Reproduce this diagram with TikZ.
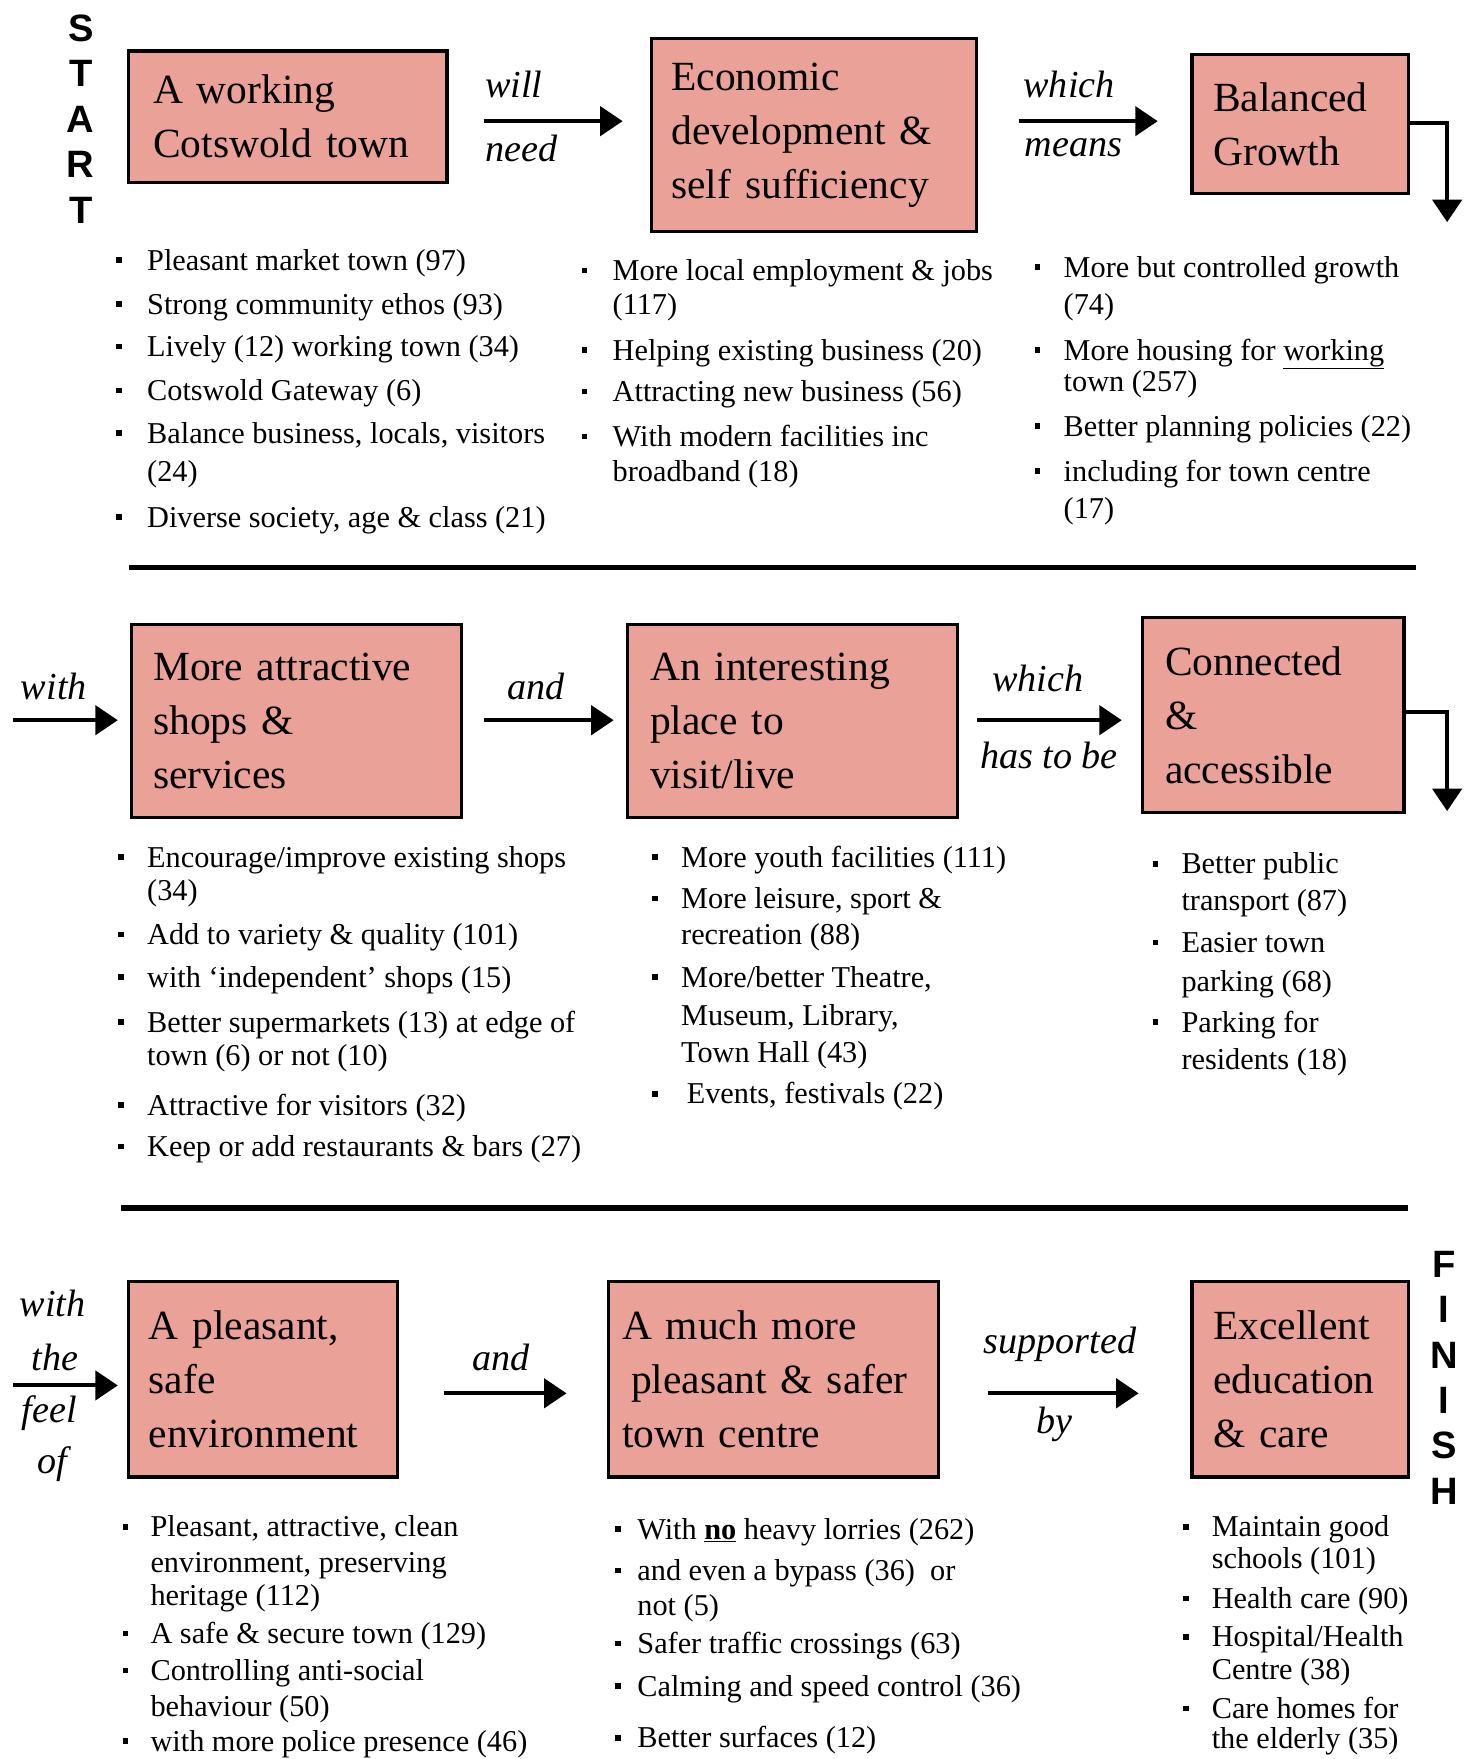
\documentclass[tikz,border=0pt]{standalone}
\usepackage{fontspec}
\setmainfont{Liberation Serif}
\newfontfamily\hdfont{Liberation Sans}
\usetikzlibrary{arrows.meta,calc}
\definecolor{boxfill}{RGB}{234,162,152}
\tikzset{
  box/.style={draw=black, line width=3pt, fill=boxfill, align=left, inner ysep=0pt,
    font=\fontsize{37}{48}\selectfont, anchor=north west},
  conn/.style={line width=3.5pt, -{Triangle[length=20pt,width=26pt]}},
  lab/.style={font=\fontsize{34}{36}\selectfont\itshape, inner sep=0pt},
  btxt/.style={font=\fontsize{27}{30}\selectfont, anchor=base west, inner sep=0pt},
  sepline/.style={line width=5pt},
  endword/.style={font=\hdfont\bfseries\fontsize{34}{40.5}\selectfont, align=center, inner sep=0pt}
}
\newcommand\bi[5]{\fill (#2-2.5,#4-2.5) rectangle (#2+2.5,#4+2.5); \node[btxt] (#1) at (#3,#4+9) {#5};}
\newcommand\cl[4]{\node[btxt] (#1) at (#2,#3+9) {#4};}
\begin{document}
\begin{tikzpicture}[x=1pt,y=-1pt]
\fill[white] (0,0) rectangle (1311,1568);
\useasboundingbox (0,0) rectangle (1311,1568);

% START / FINISH
\node[endword] (start) at (72,106) {S\\T\\A\\R\\T};
\node[endword] (finish) at (1287,1228) {F\\I\\N\\I\\S\\H};

% boxes
\node[box, minimum width=284pt, minimum height=117pt, inner xsep=22pt, text width=240pt] (b1) at (113,44) {A working\\Cotswold town};
\node[box, minimum width=290pt, minimum height=172pt, inner xsep=18pt, text width=254pt] (b2) at (579,33) {Economic\\development \&\\self sufficiency};
\node[box, minimum width=193pt, minimum height=124pt, inner xsep=19pt, text width=155pt] (b3) at (1061,47) {Balanced\\Growth};
\node[box, minimum width=294pt, minimum height=172pt, inner xsep=19pt, text width=256pt] (b4) at (116,555) {More attractive\\shops \&\\services};
\node[box, minimum width=294pt, minimum height=172pt, inner xsep=20pt, text width=254pt] (b5) at (558,555) {An interesting\\place to\\visit/live};
\node[box, minimum width=233pt, minimum height=174pt, inner xsep=20pt, text width=193pt] (b6) at (1017,549) {Connected\\\&\\accessible};
\node[box, minimum width=240pt, minimum height=174pt, inner xsep=18pt, text width=204pt] (b7) at (113,1141) {A pleasant,\\safe\\environment};
\node[box, minimum width=294pt, minimum height=174pt, inner xsep=12pt, text width=270pt] (b8) at (541,1141) {A much more\\\hspace*{8pt}pleasant \& safer\\town centre};
\node[box, minimum width=193pt, minimum height=174pt, inner xsep=19pt, text width=155pt] (b9) at (1061,1141) {Excellent\\education\\\& care};

% connector labels
\node[lab] (l1a) at (458,75) {will};
\node[lab] (l1b) at (465,132) {need};
\node[lab] (l2a) at (953,75) {which};
\node[lab] (l2b) at (957,132) {means};
\node[lab] (l3a) at (48,612) {with};
\node[lab] (l4a) at (478,612) {and};
\node[lab] (l5a) at (925,605) {which};
\node[lab] (l5b) at (935,673) {has to be};
\node[lab] (l6a) at (47,1162) {with};
\node[lab] (l6b) at (49,1210) {the};
\node[lab] (l6c) at (44,1260) {feel};
\node[lab] (l6d) at (47,1305) {of};
\node[lab] (l7a) at (447,1210) {and};
\node[lab] (l8a) at (945,1198) {supported};
\node[lab] (l8b) at (940,1270) {by};

% connectors
\coordinate (d1) at (1290,198);
\coordinate (d2) at (1290,723);
\coordinate (w2) at (12,642);
\coordinate (w3) at (12,1235);
\draw[conn, shorten <=31pt, shorten >=24pt] (b1.east |- 0,108) -- (b2.west |- 0,108);
\draw[conn, shorten <=36pt, shorten >=29pt] (b2.east |- 0,108) -- (b3.west |- 0,108);
\draw[conn] (b3.east |- 0,110) -| (d1);
\draw[conn, shorten >=11pt] (w2) -- (b4.west |- w2);
\draw[conn, shorten <=18pt, shorten >=11pt] (b4.east |- 0,642) -- (b5.west |- 0,642);
\draw[conn, shorten <=16pt, shorten >=17pt] (b5.east |- 0,642) -- (b6.west |- 0,642);
\draw[conn] (b6.east |- 0,635) -| (d2);
\draw[conn, shorten >=8pt] (w3) -- (b7.west |- w3);
\draw[conn, shorten <=40pt, shorten >=36pt] (b7.east |- 0,1242) -- (b8.west |- 0,1242);
\draw[conn, shorten <=43pt, shorten >=46pt] (b8.east |- 0,1242) -- (b9.west |- 0,1242);

% separators
\draw[sepline] (115,506) -- (1262,506);
\draw[sepline] (108,1077) -- (1255,1077);

% row 1 bullets
\bi{p1}{106}{131}{232}{Pleasant market town (97)}
\bi{p2}{106}{131}{271}{Strong community ethos (93)}
\bi{p3}{106}{131}{309}{Lively (12) working town (34)}
\bi{p4}{106}{131}{348}{Cotswold Gateway (6)}
\bi{p5}{106}{131}{386}{Balance business, locals, visitors}
\cl{p5b}{131}{420}{(24)}
\bi{p6}{106}{131}{461}{Diverse society, age \& class (21)}

\bi{q1}{521}{546}{241}{More local employment \& jobs}
\cl{q1b}{546}{271}{(117)}
\bi{q2}{521}{546}{312}{Helping existing business (20)}
\bi{q3}{521}{546}{349}{Attracting new business (56)}
\bi{q4}{521}{546}{389}{With modern facilities inc}
\cl{q4b}{546}{420}{broadband (18)}

\bi{s1}{925}{948}{238}{More but controlled growth}
\cl{s1b}{948}{271}{(74)}
\bi{s2}{925}{948}{312}{More housing for \underline{working}}
\cl{s2b}{948}{340}{town (257)}
\bi{s3}{925}{948}{380}{Better planning policies (22)}
\bi{s4}{925}{948}{420}{including for town centre}
\cl{s4b}{948}{453}{(17)}

% row 2 bullets
\bi{t1}{108}{131}{764}{Encourage/improve existing shops}
\cl{t1b}{131}{794}{(34)}
\bi{t2}{108}{131}{833}{Add to variety \& quality (101)}
\bi{t3}{108}{131}{871}{with `independent' shops (15)}
\bi{t4}{108}{131}{911}{Better supermarkets (13) at edge of}
\cl{t4b}{131}{941}{town (6) or not (10)}
\bi{t5}{108}{131}{985}{Attractive for visitors (32)}
\bi{t6}{108}{131}{1022}{Keep or add restaurants \& bars (27)}

\bi{u1}{584}{607}{764}{More youth facilities (111)}
\bi{u2}{584}{607}{801}{More leisure, sport \&}
\cl{u2b}{607}{833}{recreation (88)}
\bi{u3}{584}{607}{871}{More/better Theatre,}
\cl{u3b}{607}{905}{Museum, Library,}
\cl{u3c}{607}{938}{Town Hall (43)}
\bi{u4}{584}{612}{975}{Events, festivals (22)}

\bi{v1}{1030}{1053}{770}{Better public}
\cl{v1b}{1053}{803}{transport (87)}
\bi{v2}{1030}{1053}{840}{Easier town}
\cl{v2b}{1053}{875}{parking (68)}
\bi{v3}{1030}{1053}{911}{Parking for}
\cl{v3b}{1053}{944}{residents (18)}

% row 3 bullets
\bi{x1}{112}{134}{1361}{Pleasant, attractive, clean}
\cl{x1b}{134}{1393}{environment, preserving}
\cl{x1c}{134}{1422}{heritage (112)}
\bi{x2}{112}{134}{1456}{A safe \& secure town (129)}
\bi{x3}{112}{134}{1489}{Controlling anti-social}
\cl{x3b}{134}{1521}{behaviour (50)}
\bi{x4}{112}{134}{1552}{with more police presence (46)}

\bi{y1}{551}{568}{1363}{With \underline{\textbf{no}} heavy lorries (262)}
\bi{y2}{551}{568}{1400}{and even a bypass (36)\enspace or}
\cl{y2b}{568}{1431}{not (5)}
\bi{y3}{551}{568}{1465}{Safer traffic crossings (63)}
\bi{y4}{551}{568}{1503}{Calming and speed control (36)}
\bi{y5}{551}{568}{1549}{Better surfaces (12)}

\bi{z1}{1057}{1080}{1361}{Maintain good}
\cl{z1b}{1080}{1389}{schools (101)}
\bi{z2}{1057}{1080}{1425}{Health care (90)}
\bi{z3}{1057}{1080}{1459}{Hospital/Health}
\cl{z3b}{1080}{1488}{Centre (38)}
\bi{z4}{1057}{1080}{1523}{Care homes for}
\cl{z4b}{1080}{1550}{the elderly (35)}
\end{tikzpicture}
\end{document}
